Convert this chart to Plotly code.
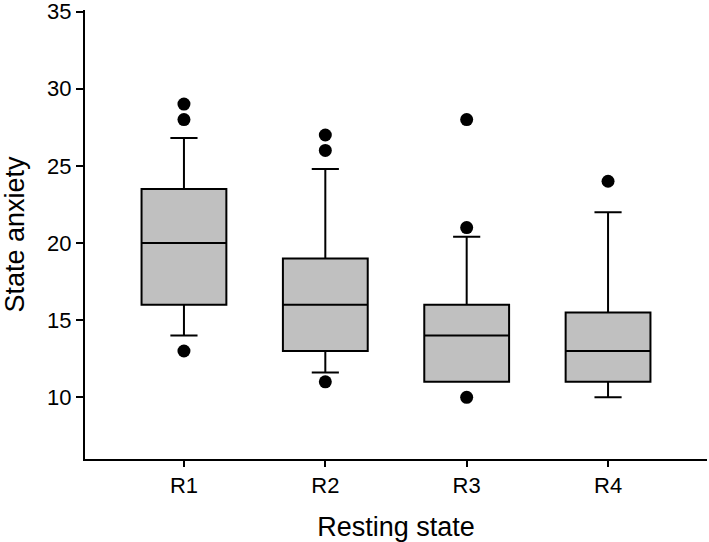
import plotly.graph_objects as go

categories = ["R1", "R2", "R3", "R4"]
positions = [0, 1, 2, 3]
q1 = [16, 13, 11, 11]
median = [20, 16, 14, 13]
q3 = [23.5, 19, 16, 15.5]
lower_whisker = [14, 11.6, 11, 10]
upper_whisker = [26.8, 24.8, 20.4, 22]

outlier_x = [0, 0, 0, 1, 1, 1, 2, 2, 2, 3]
outlier_y = [29, 28, 13, 27, 26, 11, 28, 21, 10, 24]

y_ticks = [10, 15, 20, 25, 30, 35]

font_family = "Liberation Sans, Arial, sans-serif"

fig = go.Figure()
fig.add_trace(go.Box(
    x=positions,
    q1=q1, median=median, q3=q3,
    lowerfence=lower_whisker, upperfence=upper_whisker,
    width=0.6,
    whiskerwidth=0.32,
    fillcolor="#c0c0c0",
    line=dict(color="black", width=2),
    boxpoints=False,
    showlegend=False,
))
fig.add_trace(go.Scatter(
    x=outlier_x, y=outlier_y, mode="markers",
    marker=dict(color="black", size=13, line=dict(width=0)),
    showlegend=False,
))

fig.update_layout(
    width=709, height=542,
    margin=dict(l=85, r=2, t=10, b=83),
    paper_bgcolor="white", plot_bgcolor="white",
    font=dict(family=font_family, color="black", size=22),
    xaxis=dict(
        range=[-0.7, 3.7],
        tickvals=positions, ticktext=categories,
        ticks="outside", ticklen=6, tickwidth=2, tickcolor="black",
        showline=True, linecolor="black", linewidth=2,
        showgrid=False, zeroline=False, automargin=False,
        tickfont=dict(size=22),
        title=dict(text="Resting state", font=dict(size=27), standoff=20),
    ),
    yaxis=dict(
        range=[6, 35.1],
        tickvals=y_ticks,
        ticks="outside", ticklen=7, tickwidth=2, tickcolor="black",
        showline=True, linecolor="black", linewidth=2,
        showgrid=False, zeroline=False, automargin=False,
        ticklabeloverflow="allow",
        tickfont=dict(size=22),
        title=dict(text="State anxiety", font=dict(size=27), standoff=22),
    ),
)

fig.write_html(
    "out.html",
    config={"displayModeBar": False},
    post_script="document.body.style.margin='0';document.body.style.overflow='hidden';",
)
